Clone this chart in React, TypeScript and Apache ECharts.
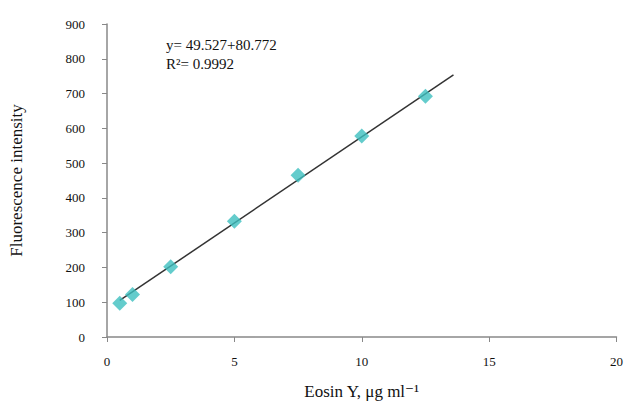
import React, { useEffect, useRef } from "react";
import * as echarts from "echarts";

const concentrations = [0.5, 1, 2.5, 5, 7.5, 10, 12.5];
const intensities = [97, 122, 202, 333, 465, 578, 692];
const trendX = [0.5, 13.6];
const trendY = [105, 754];
const equationText = "y= 49.527+80.772";
const r2Text = "R²= 0.9992";
const xTitle = "Eosin Y, μg ml⁻¹";
const yTitle = "Fluorescence intensity";

export default function App() {
  const ref = useRef<HTMLDivElement>(null);
  useEffect(() => {
    document.body.style.margin = "0";
    if (!ref.current) return;
    const chart = echarts.init(ref.current, undefined, { renderer: "svg" });
    const font = "'Liberation Serif', 'DejaVu Serif', serif";
    chart.setOption({
      animation: false,
      backgroundColor: "#fff",
      grid: { left: 102, right: 8, top: 24, bottom: 65 },
      xAxis: {
        type: "value",
        min: 0,
        max: 20,
        interval: 5,
        name: xTitle,
        nameLocation: "middle",
        nameGap: 46,
        nameTextStyle: { fontFamily: font, fontSize: 17, color: "#111" },
        axisLine: { lineStyle: { color: "#888", width: 1.5 } },
        axisTick: { show: true, length: 5, lineStyle: { color: "#888" } },
        axisLabel: { fontFamily: font, fontSize: 13, color: "#111", margin: 18 },
        splitLine: { show: false },
      },
      yAxis: {
        type: "value",
        min: 0,
        max: 900,
        interval: 100,
        name: yTitle,
        nameLocation: "middle",
        nameGap: 82,
        nameTextStyle: { fontFamily: font, fontSize: 17, color: "#111" },
        axisLine: { show: true, lineStyle: { color: "#888", width: 1.5 } },
        axisTick: { show: true, length: 5, lineStyle: { color: "#888" } },
        axisLabel: { fontFamily: font, fontSize: 13, color: "#111", margin: 22 },
        splitLine: { show: false },
      },
      series: [
        {
          type: "line",
          data: trendX.map((x, i) => [x, trendY[i]]),
          showSymbol: false,
          lineStyle: { color: "#333", width: 1.5 },
          z: 1,
        },
        {
          type: "scatter",
          data: concentrations.map((x, i) => [x, intensities[i]]),
          symbol: "diamond",
          symbolSize: 15,
          itemStyle: { color: "#3dbfbf" },
          z: 2,
        },
      ],
      graphic: [
        {
          type: "text",
          left: 166,
          top: 37,
          style: { text: equationText, fontFamily: font, fontSize: 15, fill: "#111" },
        },
        {
          type: "text",
          left: 166,
          top: 56,
          style: { text: r2Text, fontFamily: font, fontSize: 15, fill: "#111" },
        },
      ],
    });
    return () => chart.dispose();
  }, []);
  return <div ref={ref} style={{ width: 626, height: 405 }} />;
}
